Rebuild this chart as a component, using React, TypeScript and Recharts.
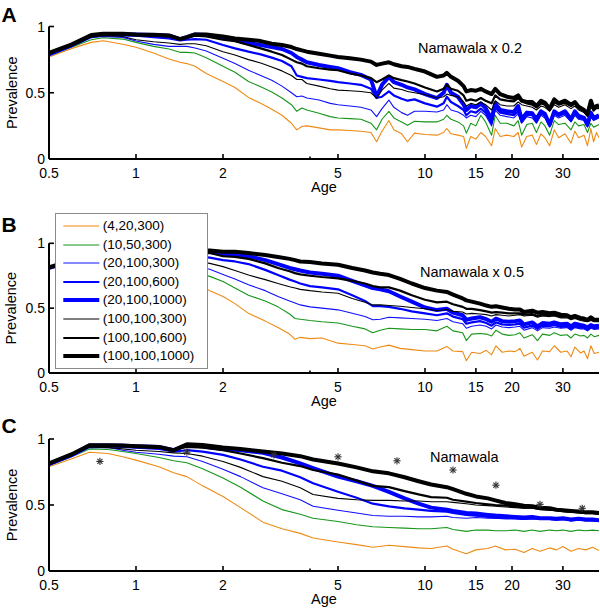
import React from 'react';
import { ComposedChart, Line, Scatter, XAxis, YAxis, Legend } from 'recharts';

// ---------- data ----------
const seriesLabels = ['(4,20,300)', '(10,50,300)', '(20,100,300)', '(20,100,600)', '(20,100,1000)', '(100,100,300)', '(100,100,600)', '(100,100,1000)'];

const xTicks = [0.5, 1, 2, 4, 5, 10, 15, 20, 30];
const yTicks = [0, 0.5, 1];

// Panel A (Namawala x 0.2)
const agesA = [0.5, 0.6, 0.7, 0.77, 0.9, 1.0, 1.15, 1.3, 1.42, 1.5, 1.6, 1.75, 2.0, 2.2, 2.45, 2.7, 2.95, 3.2, 3.45, 3.6, 3.75, 3.9, 4.3, 4.7, 5.0, 5.5, 6.0, 6.5, 6.8, 7.1, 7.5, 7.8, 8.3, 8.7, 9.2, 10.0, 11.0, 11.6, 11.9, 12.3, 13.0, 13.6, 13.9, 14.4, 15.0, 15.6, 16.2, 17.0, 17.5, 18.2, 19.2, 20.3, 21.0, 21.6, 22.5, 23.5, 24.3, 25.2, 26.0, 27.0, 28.0, 29.0, 30.5, 32.0, 33.0, 34.0, 35.5, 36.5, 37.5, 38.3, 39.2, 40];
const orangeA = [.77, .835, .88, .893, .866, .843, .80, .755, .73, .72, .70, .645, .585, .54, .465, .42, .375, .33, .27, .22, .245, .25, .235, .22, .22, .215, .21, .20, .13, .21, .29, .22, .19, .13, .195, .185, .18, .20, .23, .19, .18, .17, .08, .17, .15, .20, .17, .10, .23, .17, .18, .17, .20, .09, .17, .18, .11, .19, .16, .10, .22, .16, .19, .12, .21, .16, .18, .10, .23, .13, .20, .16];
const greenA = [.78, .845, .90, .915, .905, .88, .85, .83, .805, .805, .80, .765, .70, .655, .585, .545, .505, .46, .41, .36, .385, .37, .345, .32, .31, .305, .30, .27, .22, .30, .36, .31, .28, .255, .285, .28, .28, .30, .33, .30, .28, .25, .195, .27, .25, .33, .28, .18, .33, .27, .27, .25, .29, .18, .26, .27, .20, .28, .25, .18, .29, .26, .27, .22, .28, .25, .26, .20, .27, .24, .25, .26];
const blue300A = [.785, .85, .915, .925, .918, .89, .865, .85, .85, .85, .838, .815, .76, .72, .67, .63, .595, .55, .50, .47, .475, .46, .445, .42, .41, .40, .39, .37, .32, .38, .445, .39, .35, .33, .36, .36, .355, .37, .41, .37, .355, .33, .31, .33, .32, .36, .33, .25, .37, .33, .32, .31, .34, .27, .32, .31, .27, .33, .31, .24, .33, .31, .33, .28, .33, .30, .29, .24, .32, .29, .30, .31];
const blue600A = [.79, .855, .925, .935, .935, .93, .92, .91, .895, .90, .905, .90, .86, .835, .81, .79, .765, .74, .70, .63, .62, .61, .60, .59, .58, .57, .56, .53, .46, .47, .51, .48, .455, .44, .45, .42, .395, .42, .47, .43, .40, .37, .33, .36, .35, .38, .35, .27, .39, .35, .34, .33, .36, .28, .335, .33, .28, .345, .325, .25, .345, .325, .345, .29, .345, .31, .30, .25, .33, .30, .31, .32];
const blue1000A = [.79, .86, .93, .94, .94, .94, .935, .93, .905, .92, .94, .935, .915, .90, .875, .86, .845, .83, .80, .77, .75, .73, .71, .695, .685, .655, .635, .60, .47, .56, .62, .58, .56, .54, .525, .49, .46, .50, .56, .50, .47, .41, .37, .40, .39, .42, .385, .30, .42, .37, .36, .355, .40, .30, .35, .345, .30, .36, .34, .26, .36, .335, .36, .30, .36, .325, .31, .26, .35, .31, .32, .33];
const black300A = [.79, .855, .92, .93, .925, .90, .885, .875, .865, .87, .87, .855, .81, .785, .75, .725, .695, .665, .63, .60, .60, .57, .55, .53, .52, .515, .51, .50, .46, .52, .57, .535, .525, .51, .50, .485, .46, .47, .49, .48, .47, .43, .40, .42, .41, .43, .41, .37, .44, .41, .40, .40, .43, .41, .40, .39, .37, .40, .39, .36, .41, .39, .41, .38, .40, .37, .35, .32, .40, .36, .38, .38];
const black600A = [.795, .86, .93, .94, .94, .935, .93, .925, .91, .915, .93, .925, .90, .89, .86, .835, .81, .785, .75, .73, .72, .70, .685, .675, .67, .645, .63, .61, .58, .60, .63, .61, .595, .585, .57, .54, .51, .53, .56, .53, .515, .48, .44, .45, .44, .46, .44, .42, .48, .45, .44, .435, .46, .44, .42, .41, .39, .42, .41, .37, .43, .41, .425, .40, .42, .385, .36, .33, .42, .37, .39, .395];
const black1000A = [.80, .865, .935, .945, .945, .94, .938, .933, .905, .92, .94, .94, .925, .91, .90, .89, .87, .86, .845, .83, .82, .81, .795, .78, .77, .76, .75, .735, .71, .72, .73, .715, .70, .695, .68, .66, .62, .63, .65, .62, .59, .55, .51, .52, .515, .53, .51, .49, .53, .49, .47, .46, .48, .44, .43, .43, .40, .44, .425, .38, .45, .42, .44, .41, .43, .395, .37, .34, .44, .38, .40, .405];

// Panel B (Namawala x 0.5)
const agesB = [0.5, 0.6, 0.7, 0.77, 0.9, 1.0, 1.2, 1.4, 1.6, 1.8, 2.0, 2.2, 2.45, 2.8, 3.1, 3.4, 3.55, 3.7, 4.0, 4.4, 5.0, 5.6, 6.2, 6.6, 7.0, 7.5, 8.2, 9.0, 10.0, 11.0, 11.9, 12.5, 13.5, 13.9, 14.5, 15.5, 16.3, 17.0, 17.6, 18.5, 19.5, 20.5, 21.3, 22.0, 23.5, 24.5, 25.5, 27.0, 28.0, 29.5, 31.0, 32.0, 33.0, 34.5, 35.5, 36.5, 37.5, 38.5, 40];
const orangeB = [.80, .845, .89, .895, .865, .84, .79, .735, .695, .635, .59, .535, .46, .40, .35, .30, .26, .275, .265, .27, .23, .22, .21, .185, .20, .215, .19, .18, .17, .17, .205, .17, .165, .095, .16, .15, .175, .14, .21, .16, .17, .165, .19, .13, .16, .10, .17, .165, .21, .16, .17, .125, .20, .155, .17, .11, .21, .15, .16];
const greenB = [.80, .855, .91, .92, .905, .88, .845, .805, .78, .745, .705, .655, .60, .555, .51, .455, .42, .415, .405, .395, .385, .36, .34, .31, .33, .345, .34, .335, .335, .325, .36, .325, .31, .25, .30, .305, .30, .285, .33, .30, .29, .295, .31, .27, .295, .25, .30, .29, .31, .29, .295, .27, .30, .285, .29, .27, .30, .28, .29];
const blue300B = [.805, .86, .92, .93, .915, .89, .86, .845, .825, .80, .76, .725, .68, .635, .59, .555, .54, .525, .51, .50, .487, .46, .435, .41, .415, .43, .425, .42, .415, .405, .42, .395, .38, .345, .36, .37, .36, .34, .37, .355, .35, .355, .36, .33, .35, .325, .35, .345, .355, .345, .35, .33, .35, .34, .34, .325, .345, .335, .34];
const blue600B = [.81, .865, .93, .94, .935, .93, .92, .905, .90, .89, .87, .86, .84, .795, .755, .72, .705, .69, .67, .66, .645, .60, .555, .515, .515, .51, .495, .475, .46, .445, .46, .435, .415, .38, .39, .40, .385, .365, .39, .375, .37, .375, .38, .35, .365, .34, .365, .36, .37, .355, .36, .34, .36, .35, .35, .335, .355, .345, .35];
const blue1000B = [.81, .865, .935, .945, .945, .945, .94, .915, .935, .935, .915, .91, .90, .87, .84, .81, .80, .79, .775, .765, .75, .71, .675, .655, .645, .63, .59, .55, .505, .485, .495, .465, .445, .41, .42, .43, .415, .395, .42, .40, .395, .40, .405, .375, .39, .36, .385, .38, .39, .375, .38, .36, .38, .37, .365, .35, .37, .36, .365];
const black300B = [.81, .865, .925, .935, .925, .90, .885, .865, .865, .845, .82, .79, .755, .72, .69, .665, .655, .645, .635, .625, .615, .575, .545, .525, .525, .52, .515, .505, .495, .48, .49, .475, .47, .455, .46, .455, .45, .44, .45, .445, .44, .445, .45, .44, .445, .43, .44, .435, .44, .425, .425, .41, .42, .405, .40, .395, .405, .395, .395];
const black600B = [.81, .87, .935, .945, .94, .935, .93, .915, .925, .925, .90, .895, .88, .845, .81, .785, .77, .76, .75, .74, .73, .71, .69, .67, .66, .66, .635, .60, .565, .545, .55, .53, .51, .495, .495, .485, .475, .465, .47, .465, .46, .46, .46, .45, .455, .44, .45, .445, .45, .435, .435, .42, .43, .415, .41, .405, .415, .405, .405];
const black1000B = [.815, .87, .94, .95, .95, .945, .94, .915, .94, .945, .935, .935, .925, .91, .895, .88, .87, .86, .855, .845, .835, .81, .79, .775, .765, .755, .725, .69, .655, .635, .625, .605, .575, .56, .55, .535, .52, .51, .515, .505, .495, .49, .49, .47, .48, .465, .47, .46, .465, .45, .445, .43, .44, .425, .42, .41, .43, .41, .41];

// Panel C (Namawala)
const agesC = [0.5, 0.6, 0.69, 0.8, 0.9, 1.0, 1.2, 1.35, 1.5, 1.7, 2.0, 2.3, 2.75, 3.2, 3.7, 4.1, 5.0, 5.8, 6.6, 7.5, 8.5, 9.5, 10.5, 11.9, 12.5, 13.9, 15.0, 16.5, 17.5, 19.0, 20.5, 22.0, 23.5, 25.0, 27.0, 28.5, 30.0, 32.0, 34.0, 36.0, 38.0, 40];
const orangeC = [.79, .85, .90, .89, .865, .84, .79, .745, .715, .645, .565, .48, .37, .32, .285, .25, .22, .20, .18, .195, .185, .175, .17, .19, .165, .13, .16, .17, .19, .16, .165, .14, .17, .15, .175, .16, .185, .15, .17, .16, .18, .155];
const greenC = [.80, .865, .925, .92, .905, .89, .86, .835, .82, .775, .705, .635, .53, .465, .43, .40, .375, .35, .335, .33, .325, .32, .32, .33, .315, .30, .31, .31, .305, .305, .31, .30, .31, .30, .31, .305, .31, .30, .31, .305, .31, .305];
const blue300C = [.805, .87, .935, .935, .915, .90, .885, .87, .865, .83, .77, .715, .63, .585, .54, .49, .46, .44, .42, .415, .415, .41, .41, .415, .405, .40, .405, .40, .40, .395, .395, .39, .395, .39, .39, .385, .39, .38, .385, .38, .38, .375];
const blue600C = [.81, .875, .945, .945, .94, .935, .925, .905, .915, .905, .88, .845, .79, .76, .71, .665, .60, .555, .51, .49, .475, .465, .455, .45, .44, .425, .42, .41, .405, .405, .40, .395, .40, .395, .395, .39, .395, .385, .39, .385, .385, .38];
const blue1000C = [.81, .88, .95, .95, .948, .945, .94, .915, .955, .945, .925, .915, .895, .86, .815, .78, .715, .68, .645, .60, .55, .51, .48, .465, .455, .44, .435, .425, .42, .415, .41, .405, .41, .40, .40, .395, .40, .39, .395, .39, .39, .385];
const black300C = [.81, .875, .94, .935, .925, .915, .905, .895, .89, .87, .83, .785, .715, .68, .63, .58, .55, .54, .535, .535, .53, .53, .525, .525, .52, .51, .50, .495, .49, .485, .48, .475, .475, .465, .46, .455, .45, .445, .44, .435, .435, .43];
const black600C = [.815, .88, .948, .948, .945, .94, .935, .92, .94, .935, .915, .89, .855, .82, .795, .765, .73, .685, .645, .635, .605, .58, .56, .555, .54, .525, .515, .505, .50, .495, .49, .48, .48, .47, .465, .46, .455, .45, .445, .44, .44, .435];
const black1000C = [.815, .885, .952, .952, .95, .945, .94, .915, .96, .955, .935, .925, .905, .89, .87, .845, .815, .785, .755, .74, .71, .68, .655, .635, .62, .585, .565, .55, .535, .515, .505, .495, .49, .48, .475, .465, .46, .455, .45, .445, .445, .44];

// Namawala observed prevalence (panel C asterisks)
const namawalaAge = [0.75, 1.5, 3.0, 5.0, 8.0, 12.5, 17.6, 25, 35];
const namawalaPrev = [0.83, 0.90, 0.88, 0.865, 0.835, 0.765, 0.65, 0.505, 0.475];

// ---------- styles ----------
const FONT = '"Liberation Sans", Arial, Helvetica, sans-serif';
const seriesStyle = [
  { color: '#EE8A14', width: 1.1 },
  { color: '#17961A', width: 1.1 },
  { color: '#1010FF', width: 1.1 },
  { color: '#0000FF', width: 2.2 },
  { color: '#0000FF', width: 4 },
  { color: '#000000', width: 1.1 },
  { color: '#000000', width: 2.2 },
  { color: '#000000', width: 4 },
];

function buildRows(ages: number[], series: number[][]) {
  return ages.map((age, i) => {
    const r: any = { age };
    series.forEach((s, j) => { r['s' + j] = s[i]; });
    return r;
  });
}

const rowsA = buildRows(agesA, [orangeA, greenA, blue300A, blue600A, blue1000A, black300A, black600A, black1000A]);
const rowsB = buildRows(agesB, [orangeB, greenB, blue300B, blue600B, blue1000B, black300B, black600B, black1000B]);
const rowsC = buildRows(agesC, [orangeC, greenC, blue300C, blue600C, blue1000C, black300C, black600C, black1000C]);
const namawalaPoints = namawalaAge.map((age, i) => ({ age, value: namawalaPrev[i] }));

const XTick = (p: any) => {
  const { x, y, payload } = p;
  const v = payload.value;
  const major = v !== 4;
  return (
    <g>
      <line x1={x} x2={x} y1={y} y2={y - (major ? 5 : 2.5)} stroke="#000" strokeWidth={1.6} />
      {major && (
        <text x={x} y={y + 19} textAnchor="middle" fontSize={14} fontFamily={FONT} fill="#000">{String(v)}</text>
      )}
    </g>
  );
};

const YTick = (p: any) => {
  const { x, y, payload } = p;
  return (
    <g>
      <line x1={x} x2={x + 5} y1={y} y2={y} stroke="#000" strokeWidth={1.6} />
      <text x={x - 4} y={y + 5} textAnchor="end" fontSize={14} fontFamily={FONT} fill="#000">{String(payload.value)}</text>
    </g>
  );
};

const Asterisk = (p: any) => {
  const { cx, cy } = p;
  if (cx == null || cy == null) return null;
  const r = 3.6;
  const d = r * 0.707;
  return (
    <g stroke="#333" strokeWidth={1.1}>
      <line x1={cx - r} y1={cy} x2={cx + r} y2={cy} />
      <line x1={cx} y1={cy - r} x2={cx} y2={cy + r} />
      <line x1={cx - d} y1={cy - d} x2={cx + d} y2={cy + d} />
      <line x1={cx - d} y1={cy + d} x2={cx + d} y2={cy - d} />
    </g>
  );
};

const LegendBox = () => (
  <div style={{ boxSizing: 'border-box', width: 153, height: 156, border: '1px solid #8a8a8a', background: '#fff', paddingTop: 2.4, fontFamily: FONT, fontSize: 13.5, color: '#000' }}>
    {seriesLabels.map((lab, i) => (
      <div key={i} style={{ display: 'flex', alignItems: 'center', height: 18.6 }}>
        <svg width={46.7} height={18} style={{ flex: 'none' }}>
          <line x1={7.3} x2={43.3} y1={9} y2={9} stroke={seriesStyle[i].color} strokeWidth={seriesStyle[i].width} />
        </svg>
        <span style={{ whiteSpace: 'nowrap', lineHeight: '18px' }}>{lab}</span>
      </div>
    ))}
  </div>
);

type PanelProps = { rows: any[]; top: number; plotTop: number; plotBottom: number; legend?: boolean; points?: any[] };

const Panel = ({ rows, top, plotTop, plotBottom, legend, points }: PanelProps) => {
  const H = Math.round(plotBottom - top + 45);
  return (
    <div style={{ position: 'absolute', left: 0, top, width: 600, height: H }}>
      <ComposedChart width={600} height={H} data={rows} margin={{ top: plotTop - top, right: 1, bottom: 0, left: 0 }}>
        <XAxis
          dataKey="age" type="number" scale="log" domain={[0.5, 40]} allowDataOverflow
          ticks={xTicks} interval={0} tick={(p: any) => <XTick {...p} />} tickLine={false}
          tickSize={0} tickMargin={0} height={45}
          axisLine={{ stroke: '#000', strokeWidth: 2 }}
          label={{
            content: (lp: any) => {
              const vb = lp.viewBox || { x: 49, y: plotBottom - top, width: 550 };
              return (
                <text x={vb.x + vb.width / 2} y={vb.y + 33} textAnchor="middle" fontSize={14.5} fontFamily={FONT} fill="#000">Age</text>
              );
            },
          }}
        />
        <YAxis
          type="number" domain={[0, 1]} allowDataOverflow ticks={yTicks} interval={0} width={49}
          tick={(p: any) => <YTick {...p} />} tickLine={false} tickSize={0} tickMargin={0}
          axisLine={{ stroke: '#000', strokeWidth: 2 }}
          label={{
            content: (lp: any) => {
              const vb = lp.viewBox || { y: plotTop - top, height: plotBottom - plotTop };
              const cy = vb.y + vb.height / 2;
              return (
                <text x={16.5} y={cy} transform={`rotate(-90 16.5 ${cy})`} textAnchor="middle" fontSize={14.5} fontFamily={FONT} fill="#000">Prevalence</text>
              );
            },
          }}
        />
        {seriesStyle.map((st, j) => (
          <Line
            key={j} type="linear" dataKey={'s' + j} name={seriesLabels[j]} stroke={st.color} strokeWidth={st.width}
            dot={false} activeDot={false} isAnimationActive={false} strokeLinejoin="round"
          />
        ))}
        {points && (
          <Scatter data={points} dataKey="value" shape={(p: any) => <Asterisk {...p} />} isAnimationActive={false} legendType="none" />
        )}
        {legend && (
          <Legend
            layout="vertical" align="center" verticalAlign="middle"
            content={() => <LegendBox />}
            wrapperStyle={{ position: 'absolute', left: 55, top: 213.3 - top, width: 153, height: 156 }}
          />
        )}
      </ComposedChart>
    </div>
  );
};

export default function App() {
  return (
    <div style={{ position: 'absolute', left: 0, top: 0, width: 600, height: 608, overflow: 'hidden', background: '#fff', fontFamily: FONT }}>
      <Panel rows={rowsA} top={0} plotTop={26.5} plotBottom={159} />
      <Panel rows={rowsB} top={210} plotTop={243.3} plotBottom={373.3} legend />
      <Panel rows={rowsC} top={410} plotTop={439} plotBottom={570.7} points={namawalaPoints} />
      <svg width={600} height={608} style={{ position: 'absolute', left: 0, top: 0, pointerEvents: 'none' }}>
        <g fontFamily={FONT} fill="#000">
          <text x={1.5} y={21.7} fontSize={21} fontWeight="bold">A</text>
          <text x={1.5} y={231.5} fontSize={21} fontWeight="bold">B</text>
          <text x={1.5} y={433} fontSize={21} fontWeight="bold">C</text>
          <text x={418} y={53} fontSize={14.5}>Namawala x 0.2</text>
          <text x={420} y={276.5} fontSize={14.5}>Namawala x 0.5</text>
          <text x={430} y={461.5} fontSize={14.5}>Namawala</text>
        </g>
      </svg>
    </div>
  );
}
